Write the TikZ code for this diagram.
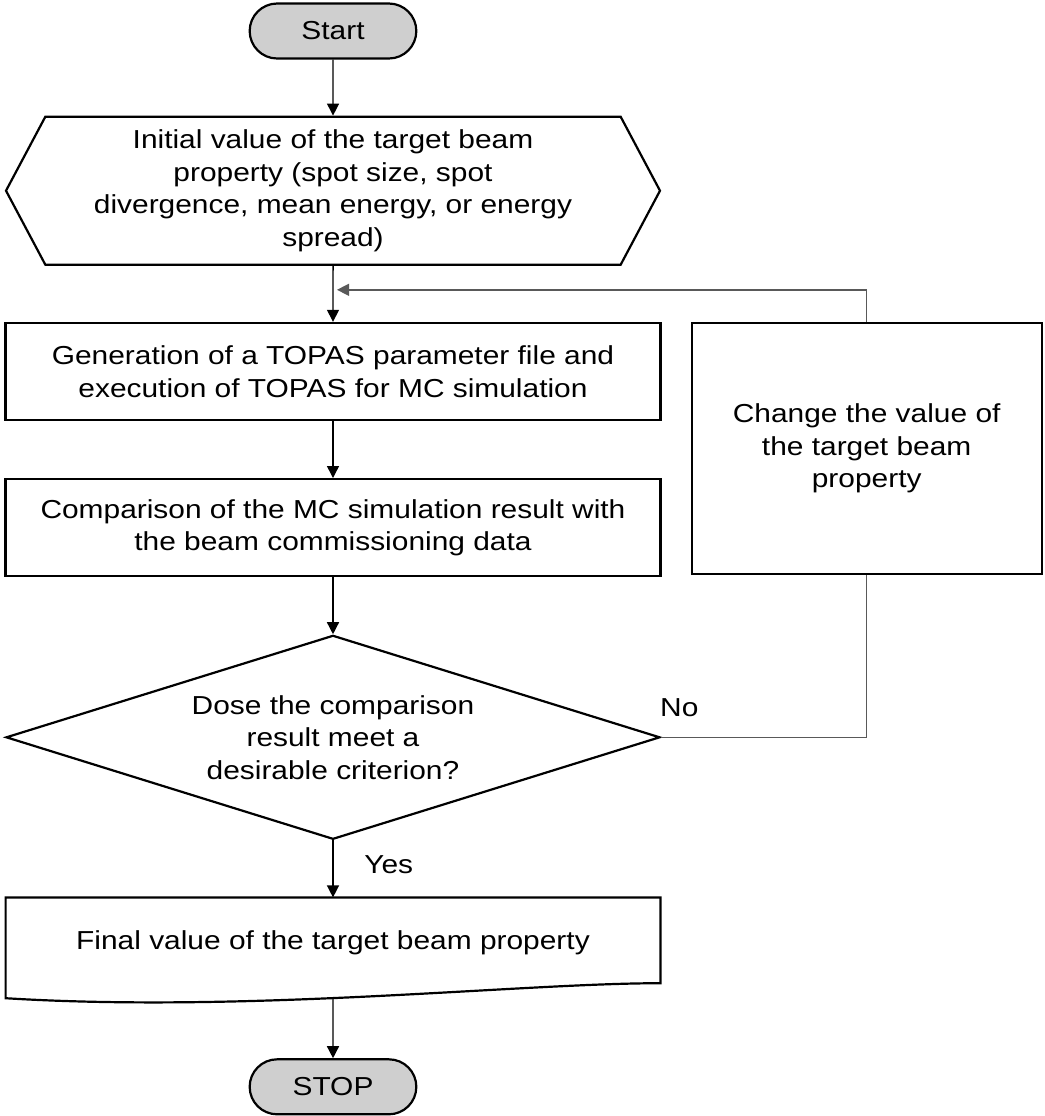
\documentclass[tikz,border=0pt]{standalone}
\usepackage{fontspec}
\setmainfont{Liberation Sans}[FakeStretch=1.15]
\usetikzlibrary{positioning,shapes.misc,shapes.symbols,shapes.geometric,arrows.meta}

\begin{document}
\begin{tikzpicture}[node distance=28pt, font=\fontsize{13}{16.3}\selectfont, >={Triangle[length=6pt,width=6pt]}]
        \tikzstyle{term}=[draw, line width=1.1pt, rounded rectangle, fill=black!19, minimum width=90pt, minimum height=27.5pt];
        \tikzstyle{rect}=[draw, line width=1.1pt, minimum width=327.5pt, minimum height=48.5pt, align=center];
        \tikzstyle{line}=[line width=.7pt];
        \tikzstyle{back}=[line width=.7pt, black!65];
        \useasboundingbox (0,0) rectangle (522.5pt,-558pt);
        \node[term] (start) at (166.5pt,-15.5pt) {Start};
        \node[below = 28pt of start, draw, line width=1.1pt, signal, signal to=west and east, signal pointer angle=124, minimum width=327pt, minimum height=74pt, align=center] (init) {Initial value of the target beam\\property (spot size, spot\\divergence, mean energy, or energy\\spread)};
        \node[rect, below = 28pt of init] (gen) {Generation of a TOPAS parameter file and\\execution of TOPAS for MC simulation};
        \node[rect, below = 28.5pt of gen] (comp) {Comparison of the MC simulation result with\\the beam commissioning data};
        \node[below = 28.5pt of comp, draw, line width=1.1pt, diamond, aspect=3.2, inner sep=1pt, minimum width=327pt, minimum height=102pt, align=center] (test) {Dose the comparison\\result meet a\\desirable criterion?};
        \node[below = 28.5pt of test, minimum width=327pt, minimum height=45pt] (final) {Final value of the target beam property};
        \draw[line width=1.1pt] (final.north west) -- (final.north east) -- ([yshift=2.5pt]final.south east) .. controls ([xshift=-70.5pt,yshift=2.5pt]final.south east) and ([xshift=121.5pt,yshift=-12.5pt]final.south west) .. ([yshift=-5pt]final.south west) -- cycle;
        \node[term, below = 35pt of final] (stop) {STOP};
        \node[draw, line width=1.1pt, minimum width=175pt, minimum height=125.5pt, align=center, below right = 0pt and 14.5pt of gen.north east] (chg) {Change the value of\\the target beam\\property};
        \node[above right = 6.5pt and -4pt of test.east] (no) {No};
        \coordinate (finb) at ([yshift=-5pt]final.south);
        \coordinate (join) at ([xshift=2pt,yshift=-12pt]init.south);
        \draw[line,->] (start) -- (init);
        \draw[line,->] (init) -- (gen);
        \draw[line,->] (gen) -- (comp);
        \draw[line,->] (comp) -- (test);
        \draw[line,->] (test) -- node[pos=.42, right=12pt] (yes) {Yes} (final);
        \draw[line,->] (finb) -- (stop);
        \draw[back] (test.east) -| (chg.south);
        \draw[back,->] (chg.north) |- (join);
    \end{tikzpicture}
\end{document}
